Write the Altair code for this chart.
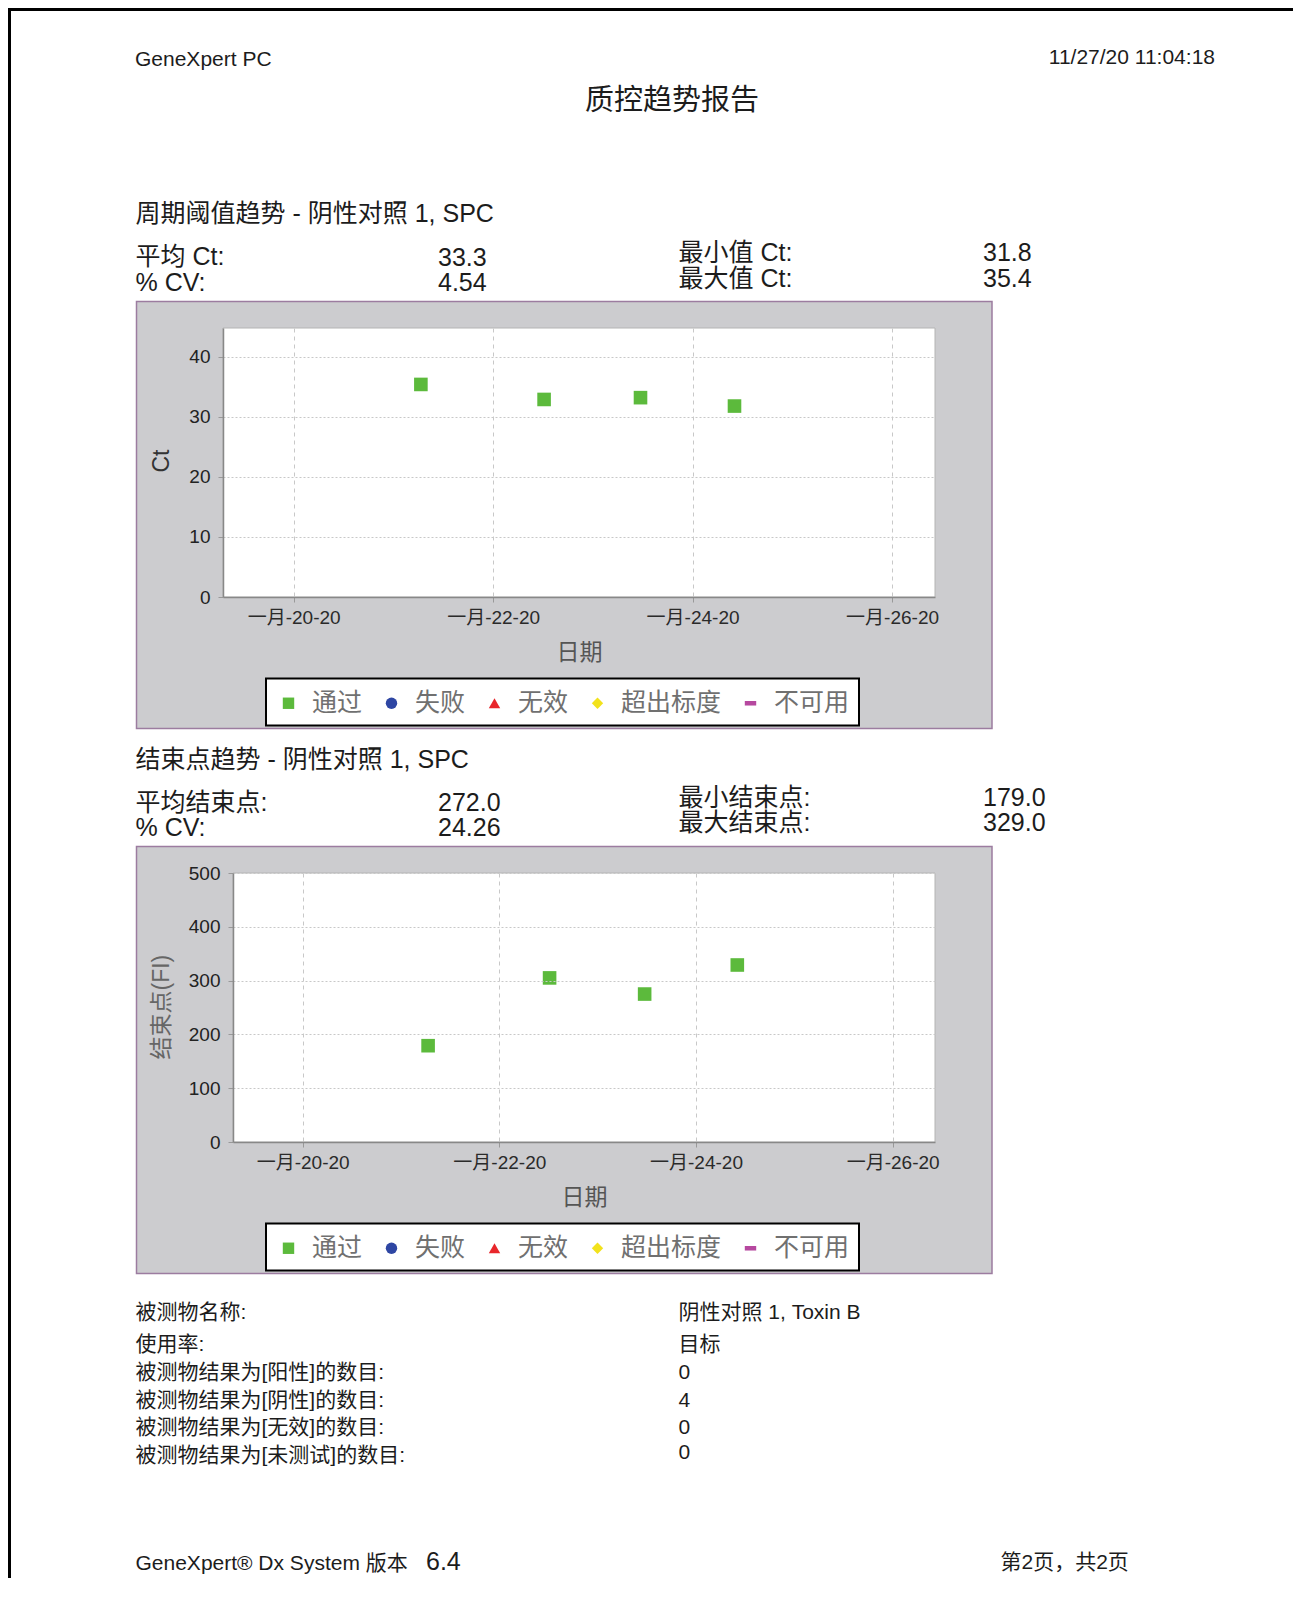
import altair as alt
import pandas as pd

FONT = "Liberation Sans, Noto Sans CJK SC, sans-serif"

# ---------------- data ----------------
TEST_DATES = ["2020-01-21T06:37:00", "2020-01-22T12:16:00", "2020-01-23T11:28:00", "2020-01-24T10:05:00"]
CT_VALUES = [35.4, 32.9, 33.2, 31.8]
ENDPOINT_VALUES = [179, 305, 275, 329]
RESULT_STATUS = ["通过", "通过", "通过", "通过"]

STATUS_LEVELS = ["通过", "失败", "无效", "超出标度", "不可用"]
STATUS_COLORS = ["#5cba3c", "#2e46a3", "#e8262b", "#f2e21c", "#b6489f"]
STATUS_SHAPES = ["square", "circle", "triangle-up", "diamond", "M-1,-0.4L1,-0.4L1,0.4L-1,0.4Z"]

X_TICK_DAYS = [20, 22, 24, 26]
CT_TICKS = [0, 10, 20, 30, 40]
ENDPOINT_TICKS = [0, 100, 200, 300, 400, 500]
CT_DOMAIN = [0, 44.8]
ENDPOINT_DOMAIN = [0, 500]

HEADER_LEFT = "GeneXpert PC"
HEADER_RIGHT = "11/27/20 11:04:18"
REPORT_TITLE = "质控趋势报告"
SECTION1_TITLE = "周期阈值趋势 - 阴性对照 1, SPC"
SECTION1_LABELS = ["平均 Ct:", "% CV:", "最小值 Ct:", "最大值 Ct:"]
SECTION1_VALUES = ["33.3", "4.54", "31.8", "35.4"]
SECTION2_TITLE = "结束点趋势 - 阴性对照 1, SPC"
SECTION2_LABELS = ["平均结束点:", "% CV:", "最小结束点:", "最大结束点:"]
SECTION2_VALUES = ["272.0", "24.26", "179.0", "329.0"]
INFO_LABELS = ["被测物名称:", "使用率:", "被测物结果为[阳性]的数目:", "被测物结果为[阴性]的数目:",
               "被测物结果为[无效]的数目:", "被测物结果为[未测试]的数目:"]
INFO_VALUES = ["阴性对照 1, Toxin B", "目标", "0", "4", "0", "0"]
FOOTER_LEFT = "GeneXpert® Dx System 版本"
FOOTER_VERSION = "6.4"
FOOTER_RIGHT = "第2页，共2页"

df = pd.DataFrame({"date": TEST_DATES, "ct": CT_VALUES, "endpoint": ENDPOINT_VALUES, "status": RESULT_STATUS})


def dt(d, h=0, m=0):
    return alt.DateTime(year=2020, month=1, date=d, hours=h, minutes=m)


X_DOMAIN = [dt(19, 7, 0), dt(26, 10, 20)]

# ---------------- page geometry (page pixels) ----------------
O1 = (223, 328)   # plot origin of chart 1
O2 = (223, 873)   # plot origin of chart 2
TXT = "#1c1c1c"
DY = 2  # baseline correction


def text(s, px, py, origin, size, color=TXT, align="left"):
    ox, oy = origin
    return alt.Chart(alt.Data(values=[{}])).mark_text(
        font=FONT, fontSize=size, color=color, align=align, baseline="middle"
    ).encode(x=alt.value(px - ox), y=alt.value(py + DY - oy), text=alt.value(s))


def box(x1, y1, x2, y2, origin, fill, stroke=None, sw=0):
    ox, oy = origin
    kw = dict(fill=fill)
    if stroke:
        kw.update(stroke=stroke, strokeWidth=sw)
    return alt.Chart(alt.Data(values=[{}])).mark_rect(**kw).encode(
        x=alt.value(x1 - ox), x2=alt.value(x2 - ox), y=alt.value(y1 - oy), y2=alt.value(y2 - oy))


def x_axis():
    return alt.Axis(values=[dt(d) for d in X_TICK_DAYS], format="一月-%d-%y", title="日期",
                    titleFont=FONT, titleFontSize=23, titleFontWeight="normal", titleColor="#555",
                    titleY=55, titleBaseline="middle",
                    labelFont=FONT, labelFontSize=19, labelColor="#2a2a2a", labelBaseline="middle",
                    labelPadding=15, labelFlush=False, labelOverlap=False,
                    tickSize=5, tickColor="#999", domainColor="#888", domainWidth=1.5,
                    grid=True, gridColor="#c8c8c8", gridDash=[4, 4], zindex=1)


def y_axis(values, title, tx, ty, tcolor, offset=0):
    kw = dict(values=values, title=title, titleX=tx, titleY=ty, titleBaseline="middle",
              titleFont=FONT, titleFontSize=23, titleFontWeight="normal", titleColor=tcolor,
              labelFont=FONT, labelFontSize=19, labelColor="#222", labelPadding=8,
              tickSize=5, tickColor="#999", domainColor="#888", domainWidth=1.5,
              grid=True, gridColor="#c8c8c8", gridDash=[2, 2], zindex=1)
    if offset:
        kw["offset"] = offset
    return alt.Axis(**kw)


legend = alt.Legend(orient="none", legendX=53, legendY=362.5, direction="horizontal", title=None,
                    labelFont=FONT, labelFontSize=25, labelColor="#707070", symbolSize=130,
                    symbolStrokeWidth=0, symbolOpacity=1, labelOffset=11, columnPadding=16,
                    padding=0, labelLimit=400, zindex=1)
color = alt.Color("status:N", scale=alt.Scale(domain=STATUS_LEVELS, range=STATUS_COLORS), legend=legend)
shape = alt.Shape("status:N", scale=alt.Scale(domain=STATUS_LEVELS, range=STATUS_SHAPES), legend=legend)

scatter1 = alt.Chart(df).mark_point(filled=True, size=185, opacity=1).encode(
    x=alt.X("date:T", scale=alt.Scale(domain=X_DOMAIN, nice=False), axis=x_axis()),
    y=alt.Y("ct:Q", scale=alt.Scale(domain=CT_DOMAIN, nice=False), axis=y_axis(CT_TICKS, "Ct", -62, 132.5, "#333")),
    color=color, shape=shape)

scatter2 = alt.Chart(df).mark_point(filled=True, size=185, opacity=1).encode(
    x=alt.X("date:T", scale=alt.Scale(domain=X_DOMAIN, nice=False, range=[10, 712]), axis=x_axis()),
    y=alt.Y("endpoint:Q", scale=alt.Scale(domain=ENDPOINT_DOMAIN, nice=False),
            axis=y_axis(ENDPOINT_TICKS, "结束点(FI)", -72, 133.6, "#666", offset=-10)),
    color=color, shape=shape)

PANEL = "#cccccf"
PURPLE = "#9c7ca0"

cell1 = alt.layer(
    box(8, 8, 11, 740, O1, "black"),
    box(8, 8, 1293, 11, O1, "black"),
    text(HEADER_LEFT, 135, 58, O1, 21),
    text(HEADER_RIGHT, 1215, 56, O1, 21, align="right"),
    text(REPORT_TITLE, 672, 99, O1, 29, align="center"),
    text(SECTION1_TITLE, 135.5, 212, O1, 25),
    text(SECTION1_LABELS[0], 135.5, 255, O1, 25),
    text(SECTION1_VALUES[0], 438, 256, O1, 25),
    text(SECTION1_LABELS[1], 135.5, 281, O1, 25),
    text(SECTION1_VALUES[1], 438, 281, O1, 25),
    text(SECTION1_LABELS[2], 678.5, 250.5, O1, 25),
    text(SECTION1_VALUES[2], 983, 250.5, O1, 25),
    text(SECTION1_LABELS[3], 678.5, 277, O1, 25),
    text(SECTION1_VALUES[3], 983, 277, O1, 25),
    box(136.5, 301.5, 992, 728.5, O1, PANEL, PURPLE, 1.5),
    box(223, 328, 935, 597, O1, "white", "#b4b4b4", 1),
    box(266, 678.5, 859, 725.5, O1, "white", "black", 2),
    scatter1,
).properties(width=712, height=269)

cell2 = alt.layer(
    box(8, 740, 11, 1578, O2, "black"),
    text(SECTION2_TITLE, 135.5, 758, O2, 25),
    text(SECTION2_LABELS[0], 135.5, 801, O2, 25),
    text(SECTION2_VALUES[0], 438, 801, O2, 25),
    text(SECTION2_LABELS[1], 135.5, 826, O2, 25),
    text(SECTION2_VALUES[1], 438, 826, O2, 25),
    text(SECTION2_LABELS[2], 678.5, 796, O2, 25),
    text(SECTION2_VALUES[2], 983, 796, O2, 25),
    text(SECTION2_LABELS[3], 678.5, 821, O2, 25),
    text(SECTION2_VALUES[3], 983, 821, O2, 25),
    box(136.5, 846.5, 992, 1273.5, O2, PANEL, PURPLE, 1.5),
    box(233, 873, 935, 1142, O2, "white", "#b4b4b4", 1),
    box(266, 1223.5, 859, 1270.5, O2, "white", "black", 2),
    scatter2,
    *[text(s, 135.5, y, O2, 21) for s, y in zip(INFO_LABELS, [1311, 1343, 1371, 1399, 1426, 1454])],
    *[text(s, 678.5, y, O2, 21) for s, y in zip(INFO_VALUES, [1311, 1343, 1371, 1399, 1426, 1451])],
    text(FOOTER_LEFT, 135.5, 1562, O2, 21),
    text(FOOTER_VERSION, 426, 1560, O2, 25),
    text(FOOTER_RIGHT, 1000.5, 1561, O2, 21),
).properties(width=712, height=269)

chart = alt.vconcat(cell1, cell2, spacing=0).resolve_scale(
    color="independent", shape="independent"
).resolve_legend(color="independent", shape="independent").configure_view(
    strokeWidth=0
).properties(padding=0)

chart.save("out.html", embed_options={"renderer": "svg", "actions": False})
